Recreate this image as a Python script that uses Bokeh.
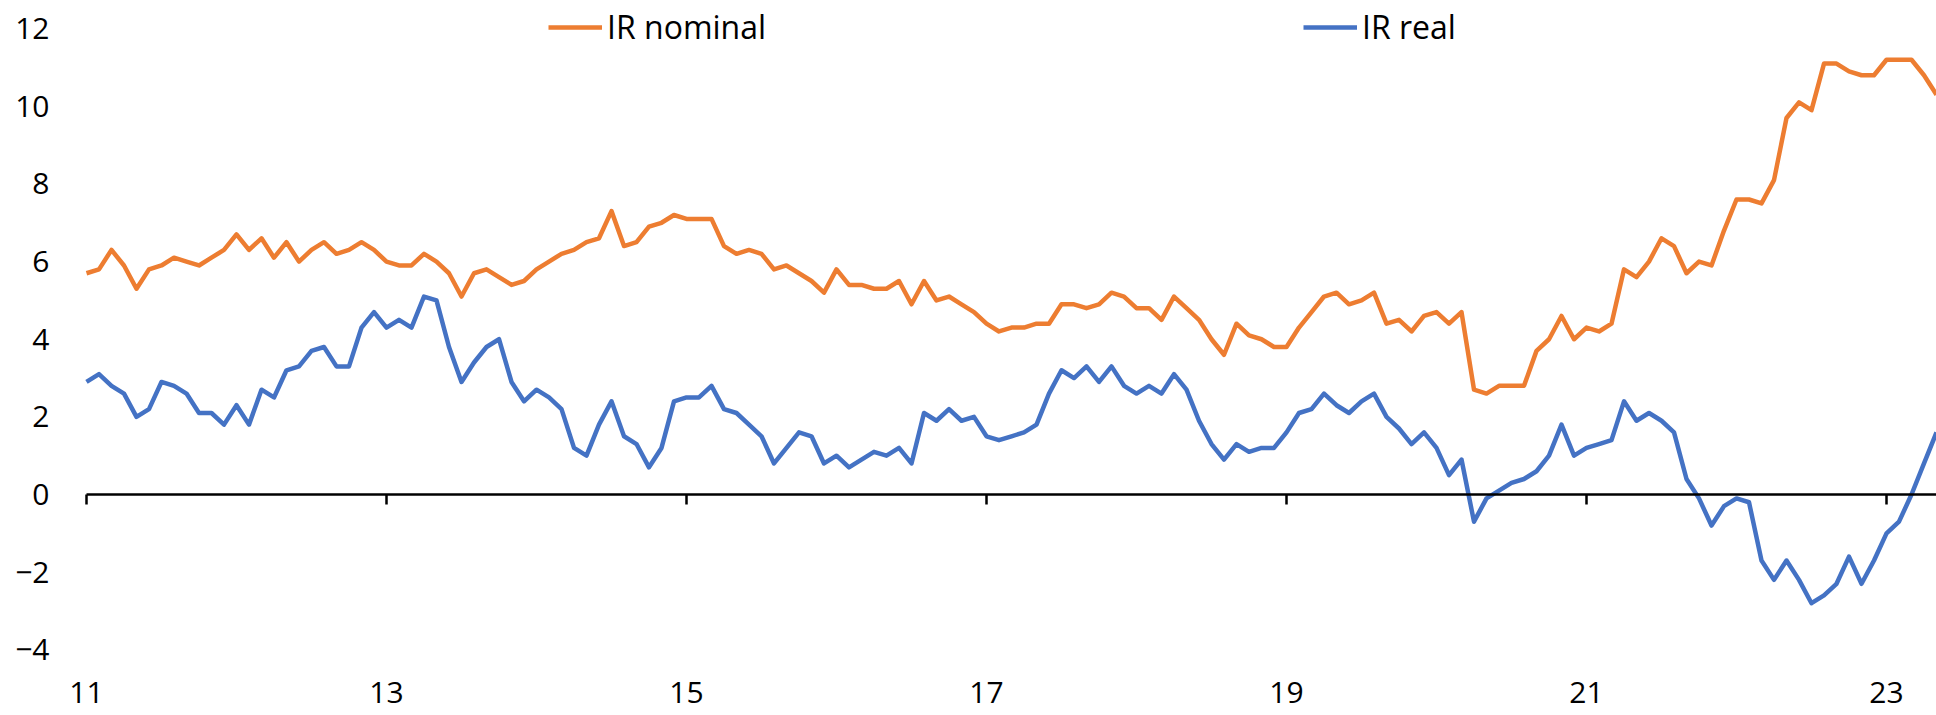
from bokeh.plotting import figure
from bokeh.models import Range1d, LinearAxis, FixedTicker, Legend, LegendItem
from bokeh.embed import file_html
from bokeh.resources import INLINE

# ---- data: monthly, starting Jan 2011 (x axis labels are 2-digit years) ----
start_year = 11
ir_nominal = [
    5.7, 5.8, 6.3, 5.9, 5.3, 5.8, 5.9, 6.1, 6.0, 5.9, 6.1, 6.3,
    6.7, 6.3, 6.6, 6.1, 6.5, 6.0, 6.3, 6.5, 6.2, 6.3, 6.5, 6.3,
    6.0, 5.9, 5.9, 6.2, 6.0, 5.7, 5.1, 5.7, 5.8, 5.6, 5.4, 5.5,
    5.8, 6.0, 6.2, 6.3, 6.5, 6.6, 7.3, 6.4, 6.5, 6.9, 7.0, 7.2,
    7.1, 7.1, 7.1, 6.4, 6.2, 6.3, 6.2, 5.8, 5.9, 5.7, 5.5, 5.2,
    5.8, 5.4, 5.4, 5.3, 5.3, 5.5, 4.9, 5.5, 5.0, 5.1, 4.9, 4.7,
    4.4, 4.2, 4.3, 4.3, 4.4, 4.4, 4.9, 4.9, 4.8, 4.9, 5.2, 5.1,
    4.8, 4.8, 4.5, 5.1, 4.8, 4.5, 4.0, 3.6, 4.4, 4.1, 4.0, 3.8,
    3.8, 4.3, 4.7, 5.1, 5.2, 4.9, 5.0, 5.2, 4.4, 4.5, 4.2, 4.6,
    4.7, 4.4, 4.7, 2.7, 2.6, 2.8, 2.8, 2.8, 3.7, 4.0, 4.6, 4.0,
    4.3, 4.2, 4.4, 5.8, 5.6, 6.0, 6.6, 6.4, 5.7, 6.0, 5.9, 6.8,
    7.6, 7.6, 7.5, 8.1, 9.7, 10.1, 9.9, 11.1, 11.1, 10.9, 10.8, 10.8,
    11.2, 11.2, 11.2, 10.8, 10.3,
]
ir_real = [
    2.9, 3.1, 2.8, 2.6, 2.0, 2.2, 2.9, 2.8, 2.6, 2.1, 2.1, 1.8,
    2.3, 1.8, 2.7, 2.5, 3.2, 3.3, 3.7, 3.8, 3.3, 3.3, 4.3, 4.7,
    4.3, 4.5, 4.3, 5.1, 5.0, 3.8, 2.9, 3.4, 3.8, 4.0, 2.9, 2.4,
    2.7, 2.5, 2.2, 1.2, 1.0, 1.8, 2.4, 1.5, 1.3, 0.7, 1.2, 2.4,
    2.5, 2.5, 2.8, 2.2, 2.1, 1.8, 1.5, 0.8, 1.2, 1.6, 1.5, 0.8,
    1.0, 0.7, 0.9, 1.1, 1.0, 1.2, 0.8, 2.1, 1.9, 2.2, 1.9, 2.0,
    1.5, 1.4, 1.5, 1.6, 1.8, 2.6, 3.2, 3.0, 3.3, 2.9, 3.3, 2.8,
    2.6, 2.8, 2.6, 3.1, 2.7, 1.9, 1.3, 0.9, 1.3, 1.1, 1.2, 1.2,
    1.6, 2.1, 2.2, 2.6, 2.3, 2.1, 2.4, 2.6, 2.0, 1.7, 1.3, 1.6,
    1.2, 0.5, 0.9, -0.7, -0.1, 0.1, 0.3, 0.4, 0.6, 1.0, 1.8, 1.0,
    1.2, 1.3, 1.4, 2.4, 1.9, 2.1, 1.9, 1.6, 0.4, -0.1, -0.8, -0.3,
    -0.1, -0.2, -1.7, -2.2, -1.7, -2.2, -2.8, -2.6, -2.3, -1.6, -2.3, -1.7,
    -1.0, -0.7, 0.0, 0.8, 1.6,
]
x_tick_years = [11, 13, 15, 17, 19, 21, 23]
y_ticks = [-4, -2, 0, 2, 4, 6, 8, 10, 12]
series_names = ["IR nominal", "IR real"]

ORANGE = "#ED7D31"
BLUE = "#4472C4"
FONT = "Open Sans"
FS = "30px"

x = [start_year + i / 12 for i in range(len(ir_nominal))]

p = figure(width=1936, height=715, output_backend="svg", toolbar_location=None,
           x_range=Range1d(10.4267, 23.3333), y_range=Range1d(-5.693, 12.726),
           x_axis_location=None, y_axis_location=None, min_border=0)
p.outline_line_color = None
p.background_fill_color = "white"
p.border_fill_color = "white"
for g in p.grid:
    g.visible = False

r_nom = p.line(x, ir_nominal, line_color=ORANGE, line_width=4.5, line_join="round")
r_real = p.line(x, ir_real, line_color=BLUE, line_width=4.5, line_join="round")

# value axis labels (no line)
yax = LinearAxis(fixed_location=start_year, ticker=FixedTicker(ticks=y_ticks),
                 axis_line_color=None, major_tick_line_color=None,
                 minor_tick_line_color=None, major_tick_out=0, major_tick_in=0,
                 major_label_standoff=37, major_label_text_font=FONT,
                 major_label_text_font_size=FS, major_label_text_color="black")
p.add_layout(yax, "left")

# category axis line crossing at zero, with outward ticks
zax = LinearAxis(fixed_location=0, ticker=FixedTicker(ticks=x_tick_years),
                 bounds=(start_year, 23.3333),
                 axis_line_color="black", axis_line_width=2.5,
                 major_tick_line_color="black", major_tick_line_width=2.5,
                 major_tick_out=10, major_tick_in=0,
                 minor_tick_line_color=None, major_label_text_color=None)
p.add_layout(zax, "below")

# category labels at the bottom ("low" position)
lax = LinearAxis(fixed_location=-4.63, ticker=FixedTicker(ticks=x_tick_years),
                 axis_line_color=None, major_tick_line_color=None,
                 minor_tick_line_color=None, major_tick_out=0, major_tick_in=0,
                 major_label_standoff=8, major_label_text_font=FONT,
                 major_label_text_font_size=FS, major_label_text_color="black")
p.add_layout(lax, "below")

common = dict(border_line_color=None, background_fill_alpha=0, padding=0, margin=0,
              spacing=0, glyph_width=54, glyph_height=40, label_height=40,
              label_standoff=5, label_text_font=FONT, label_text_font_size="32px",
              label_text_color="black")
leg1 = Legend(items=[LegendItem(label=series_names[0], renderers=[r_nom])],
              location=(548, 667), **common)
leg2 = Legend(items=[LegendItem(label=series_names[1], renderers=[r_real])],
              location=(1303, 667), **common)
p.add_layout(leg1)
p.add_layout(leg2)

open("out.html", "w").write(file_html(p, INLINE))
